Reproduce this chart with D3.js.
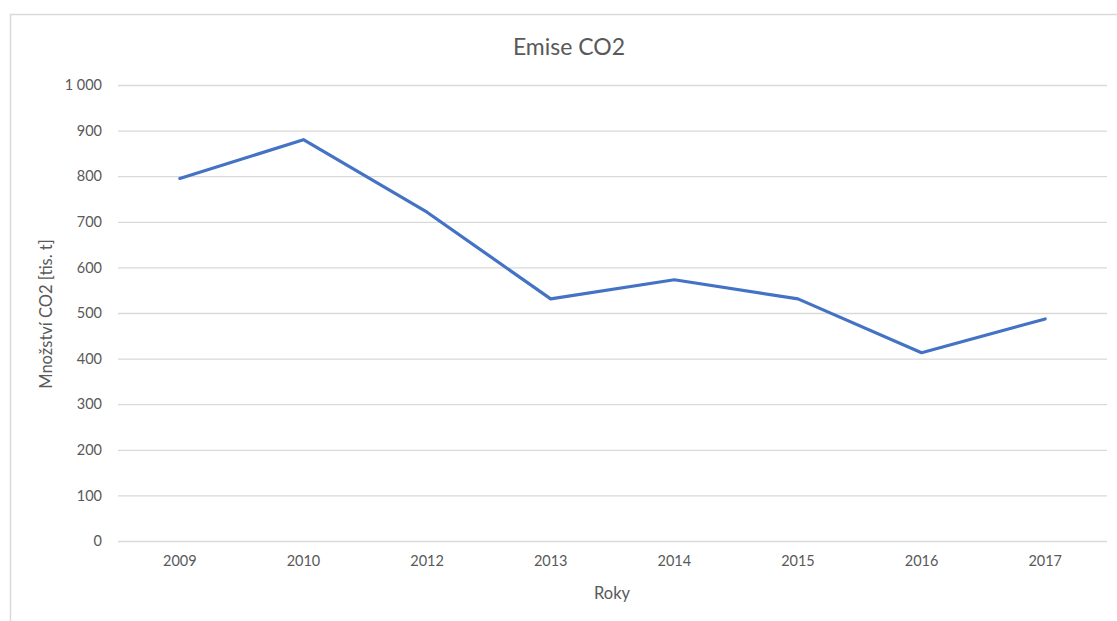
<!DOCTYPE html>
<html>
<head>
<meta charset="utf-8">
<script src="https://cdn.jsdelivr.net/npm/d3@7"></script>
<style>
  html, body { margin: 0; padding: 0; background: #fff; }
  svg { display: block; }
  text { font-family: Lato, "Open Sans", sans-serif; fill: #595959; }
</style>
</head>
<body>
<svg id="chart" width="1117" height="621"></svg>
<script>
// Roční emise CO2 (tis. t)
const years = ["2009", "2010", "2012", "2013", "2014", "2015", "2016", "2017"];
const emissions = [795, 880, 721, 531, 573, 531, 413, 487];
const yTicks = [0, 100, 200, 300, 400, 500, 600, 700, 800, 900, 1000];

const title = "Emise CO2";
const xTitle = "Roky";
const yTitle = "Množství CO2 [tis. t]";

const W = 1117, H = 621;
const plot = { left: 118, right: 1107, top: 85, bottom: 541 };
const font = "Lato, 'Open Sans', sans-serif";

const svg = d3.select("#chart");

// Chart area frame
svg.append("rect")
  .attr("x", 10.5).attr("y", 14.5)
  .attr("width", W).attr("height", H)
  .attr("fill", "#fff")
  .attr("stroke", "#d9d9d9").attr("stroke-width", 1.5);

const x = d3.scaleBand().domain(years).range([plot.left, plot.right]);
const y = d3.scaleLinear().domain([0, 1000]).range([plot.bottom, plot.top]);

const fmt = v => d3.format(",")(v).replace(/,/g, " ");

// Horizontal gridlines and value labels
const yAxis = d3.axisLeft(y).tickValues(yTicks).tickFormat(fmt)
  .tickSize(-(plot.right - plot.left)).tickPadding(16);
const gy = svg.append("g").attr("transform", `translate(${plot.left},0)`).call(yAxis);
gy.select(".domain").remove();
gy.selectAll(".tick line").attr("stroke", "#d9d9d9").attr("stroke-width", 1.3);
gy.selectAll(".tick text").attr("font-size", 14.5).attr("fill", "#595959")
  .attr("font-family", font);

// Category labels
const xAxis = d3.axisBottom(x).tickSize(0).tickPadding(15);
const gx = svg.append("g").attr("transform", `translate(0,${plot.bottom})`).call(xAxis);
gx.select(".domain").remove();
gx.selectAll(".tick text").attr("font-size", 14.5).attr("fill", "#595959")
  .attr("font-family", font);

// Emission line
const line = d3.line()
  .x((d, i) => x(years[i]) + x.bandwidth() / 2)
  .y(d => y(d));
svg.append("path")
  .datum(emissions)
  .attr("d", line)
  .attr("fill", "none")
  .attr("stroke", "#4472c4")
  .attr("stroke-width", 3.2)
  .attr("stroke-linejoin", "round")
  .attr("stroke-linecap", "round");

// Titles
svg.append("text")
  .attr("x", 569).attr("y", 55)
  .attr("text-anchor", "middle")
  .attr("font-size", 23)
  .text(title);

svg.append("text")
  .attr("x", 612).attr("y", 599)
  .attr("text-anchor", "middle")
  .attr("font-size", 16.5)
  .text(xTitle);

svg.append("text")
  .attr("transform", `translate(52,314) rotate(-90)`)
  .attr("text-anchor", "middle")
  .attr("font-size", 16.5)
  .text(yTitle);
</script>
</body>
</html>
